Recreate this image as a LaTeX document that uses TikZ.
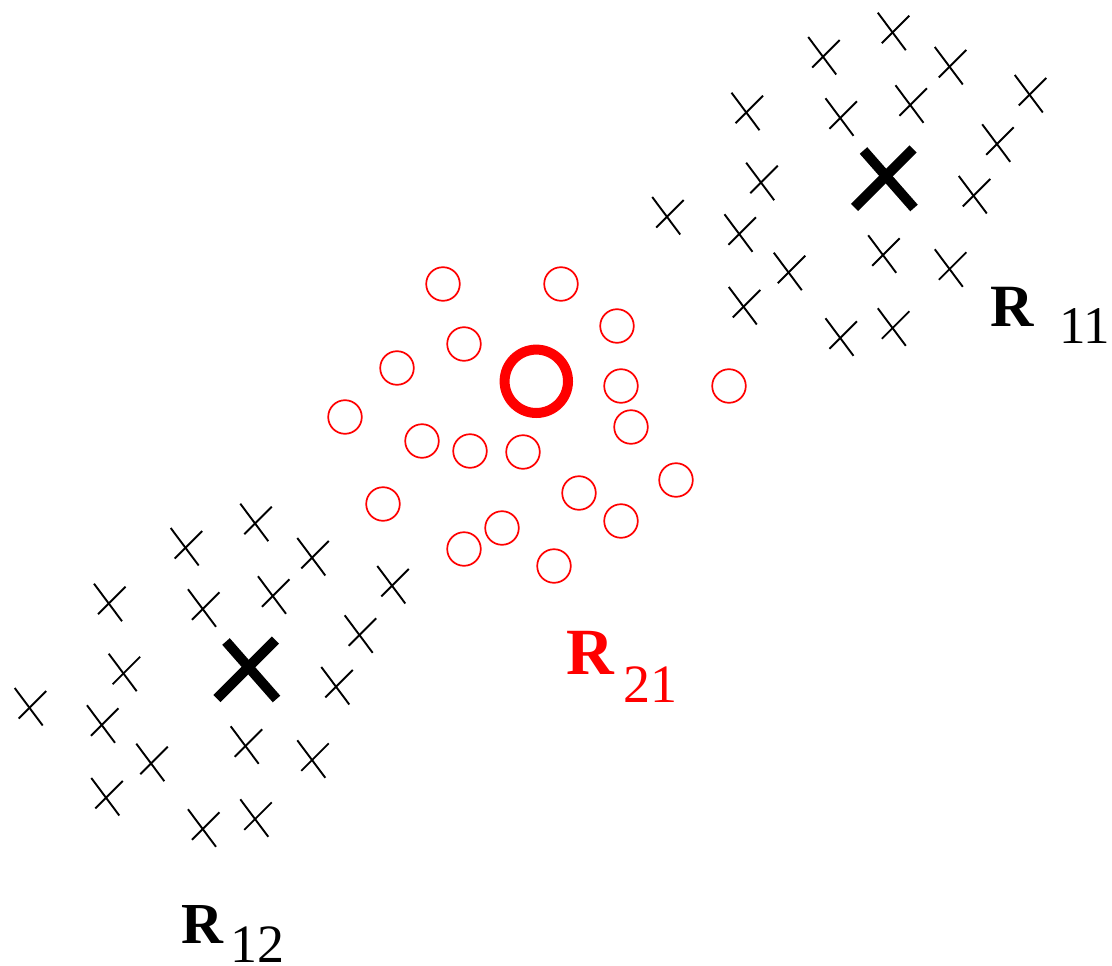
\documentclass[tikz,border=0pt]{standalone}
\usepackage{fontspec}
\setmainfont{Liberation Serif}
\begin{document}
\begin{tikzpicture}[x=1pt,y=-1pt,
  smallx/.pic={
    \draw[line width=1.9pt] (-14.5,-19) -- (13.5,18.5);
    \draw[line width=1.9pt] (-10.5,11.5) -- (17,-16);
  },
  bigx/.pic={
    \draw[line width=10pt] (-22,-26) -- (28.5,31.5);
    \draw[line width=10pt] (-31,31) -- (27.5,-27.5);
  },
  member/.style={draw=red, line width=1.7pt},
  centre/.style={draw=red, line width=10pt},
  lab/.style={inner sep=0pt, anchor=base west},
]
\useasboundingbox (0,0) rectangle (1112,966);

% cluster of crosses, drawn twice
\foreach \sx/\sy in {0/0,-637.5/491}{
  \begin{scope}[shift={(\sx,\sy)}]
    \foreach \p in {(892.3,31.7),(822.7,56),(949.3,66),(1029.3,94),
                    (746,111.7),(840,117.3),(910,104.3),(996.7,143.3),
                    (760.7,181.7),(973.3,195),(666.7,216),(739,233.3),
                    (788.3,271.7),(882.7,254.3),(949.3,268.3),(743.3,306),
                    (840,337.3),(892.3,327.3)}
      \pic at \p {smallx};
    \pic at (885.5,176.5) {bigx};
  \end{scope}
}

% circles of the middle region
\foreach \p in {(443,284),(561,284),(617,326),(464,344),(397,368),
                (621,386),(729,386),(345,417),(631,427),(422,441),
                (470,451),(523,452),(676,480),(383,504),(579,493),
                (621,521),(502,528),(464,549),(554,566)}
  \draw[member] \p circle (16.8);
\draw[centre] (536.3,381.3) circle (31.7);

% labels
\node[lab] (r11) at (990,326) {\fontsize{60}{60}\selectfont\bfseries R};
\node[lab] (s11) at (1059,343) {\fontsize{53}{53}\selectfont 11};
\node[lab] (r12) at (181,943) {\fontsize{58}{58}\selectfont\bfseries R};
\node[lab] (s12) at (230,962) {\fontsize{54}{54}\selectfont 12};
\node[lab,text=red] (r21) at (566,674) {\fontsize{66}{66}\selectfont\bfseries R};
\node[lab,text=red] (s21) at (623,702) {\fontsize{54}{54}\selectfont 21};
\end{tikzpicture}
\end{document}
